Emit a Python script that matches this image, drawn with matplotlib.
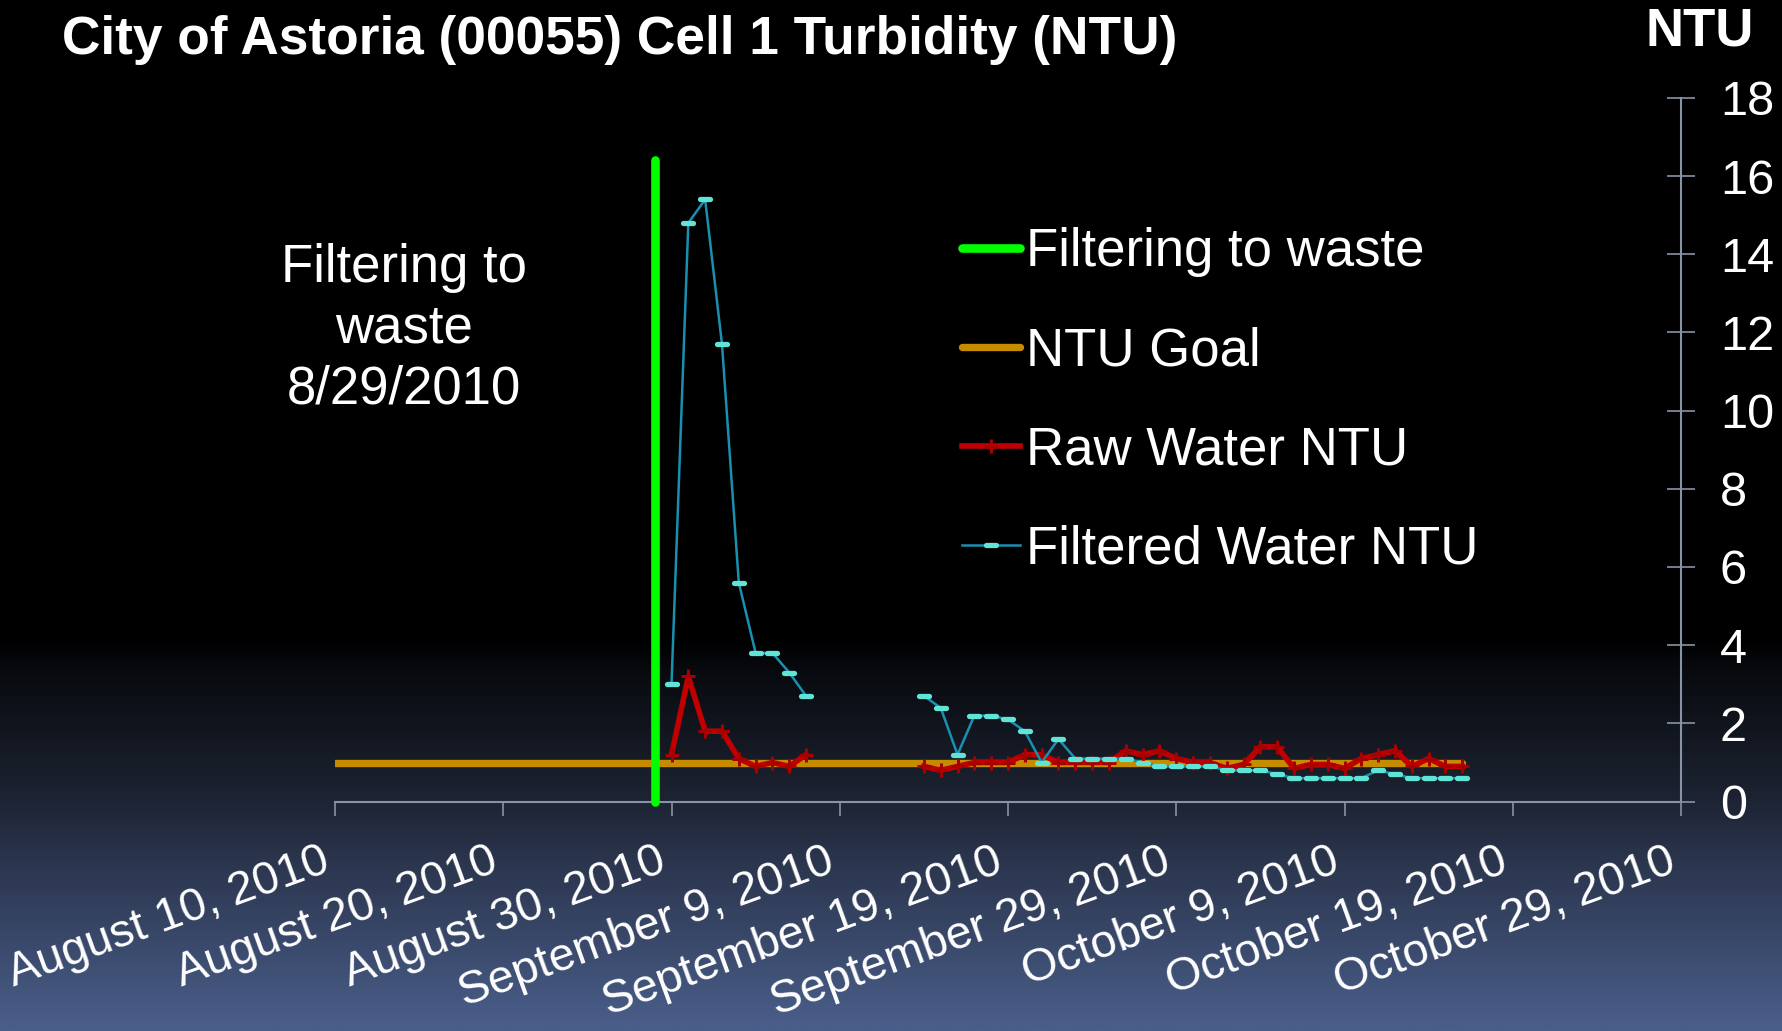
import numpy as np
import pandas as pd
import matplotlib
matplotlib.use("Agg")
import matplotlib.pyplot as plt
from matplotlib.colors import LinearSegmentedColormap
from matplotlib.markers import MarkerStyle

plt.rcParams['font.family'] = ['Liberation Sans', 'DejaVu Sans']

# ---- data ----
days = pd.date_range('2010-08-30', '2010-10-16', freq='D')
nan = np.nan
filtered_ntu = [3.0, 14.8, 15.4, 11.7, 5.6, 3.8, 3.8, 3.3, 2.7,
                nan, nan, nan, nan, nan, nan,
                2.7, 2.4, 1.2, 2.2, 2.2, 2.1, 1.8, 1.0, 1.6, 1.1, 1.1, 1.1, 1.1,
                1.0, 0.9, 0.9, 0.9,
                0.9, 0.8, 0.8, 0.8, 0.7, 0.6, 0.6, 0.6, 0.6, 0.6, 0.8, 0.7, 0.6,
                0.6, 0.6, 0.6]
raw_ntu = [1.2, 3.2, 1.8, 1.8, 1.1, 0.9, 1.0, 0.9, 1.2,
           nan, nan, nan, nan, nan, nan,
           0.9, 0.8, 0.9, 1.0, 1.0, 1.0, 1.2, 1.2, 1.0, 1.0, 1.0, 1.0, 1.3,
           1.2, 1.3, 1.1, 1.0,
           1.0, 0.85, 0.95, 1.4, 1.4, 0.85, 0.95, 0.95, 0.85, 1.1, 1.2, 1.3, 0.9,
           1.1, 0.9, 0.9]
goal_dates = pd.to_datetime(['2010-08-10', '2010-10-16'])
goal_ntu = [1.0, 1.0]
waste_dates = pd.to_datetime(['2010-08-29', '2010-08-29'])
waste_ntu = [0.0, 16.4]

tick_dates = pd.to_datetime(['2010-08-10', '2010-08-20', '2010-08-30', '2010-09-09',
                             '2010-09-19', '2010-09-29', '2010-10-09', '2010-10-19',
                             '2010-10-29'])
tick_labels = [f"{d:%B} {d.day}, {d.year}" for d in tick_dates]
y_ticks = list(range(0, 19, 2))

W, H = 1783, 1031
fig = plt.figure(figsize=(W / 100, H / 100), dpi=100)

# background gradient
bg = fig.add_axes([0, 0, 1, 1], zorder=-10)
cmap = LinearSegmentedColormap.from_list('bg', [
    (0.0, '#000000'), (0.62, '#000000'), (0.65, '#080a0e'),
    (0.776, '#1d2332'), (0.834, '#2a344c'), (1.0, '#4a5e8a')])
bg.imshow(np.linspace(0, 1, 600).reshape(-1, 1), cmap=cmap, aspect='auto',
          extent=[0, 1, 0, 1])
bg.axis('off')

ax = fig.add_axes([335 / W, 1 - 801.6 / H, (1681 - 335) / W, (801.6 - 97.8) / H])
ax.set_facecolor('none')

ax.plot(waste_dates, waste_ntu, color='#00ff00', lw=6.2, solid_capstyle='round',
        label='Filtering to waste', zorder=5, clip_on=False)
ax.plot(goal_dates, goal_ntu, color='#c68c00', lw=5.3, solid_capstyle='round',
        label='NTU Goal', zorder=3)
ax.plot(days, raw_ntu, color='#c00000', lw=4, marker='+', ms=10, mew=2.2,
        mec='#a80000', label='Raw Water NTU', zorder=4)
ax.plot(days, filtered_ntu, color='#1a90b0', lw=1.8,
        marker=MarkerStyle('_', capstyle='round'), ms=6.5, mew=3.8, mec='#60e4d6',
        label='Filtered Water NTU', zorder=4)

ax.set_xlim(pd.Timestamp('2010-08-10'), pd.Timestamp('2010-10-29'))
ax.set_ylim(0, 18)

axis_col = '#8893a6'
for s in ['left', 'top']:
    ax.spines[s].set_visible(False)
for s in ['right', 'bottom']:
    ax.spines[s].set_color(axis_col)
    ax.spines[s].set_linewidth(1.5)

ax.yaxis.tick_right()
ax.set_yticks(y_ticks)
ax.tick_params(axis='y', direction='inout', length=20, width=1.2, color=axis_col,
               labelsize=35, labelcolor='white', pad=18)
ax.set_xticks(tick_dates)
ax.set_xticklabels(tick_labels, rotation=20, ha='right', va='top')
ax.tick_params(axis='x', direction='out', length=10, width=1.2, color=axis_col,
               labelsize=33.5, labelcolor='white', pad=17)

ax.text(pd.Timestamp('2010-08-14 02:00'), 12.1, 'Filtering to\nwaste\n8/29/2010',
        color='white', fontsize=38, ha='center', va='center', multialignment='center',
        linespacing=1.27)

ax.legend(loc='upper left', bbox_to_anchor=(962 / W, 1 - 227 / H),
          bbox_transform=fig.transFigure, frameon=False, fontsize=38,
          handlelength=1.1, handletextpad=0.12, labelspacing=0.93,
          borderpad=0, borderaxespad=0, labelcolor='white')

fig.text(62 / W, 1 - 40 / H, 'City of Astoria (00055) Cell 1 Turbidity (NTU)',
         color='white', fontsize=38.3, fontweight='bold', ha='left', va='center')
fig.text(1700 / W, 1 - 32 / H, 'NTU', color='white', fontsize=38,
         fontweight='bold', ha='center', va='center')

fig.savefig('out.png', dpi=100)
